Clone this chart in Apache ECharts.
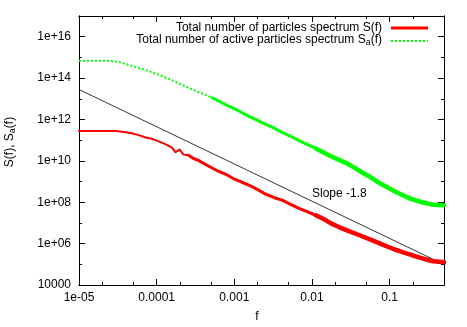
<!DOCTYPE html>
<html>
<head>
<meta charset="utf-8">
<script src="https://cdn.jsdelivr.net/npm/echarts@6/dist/echarts.min.js"></script>
<style>
html,body{margin:0;padding:0;background:#fff;}
#c{width:467px;height:327px;}
</style>
</head>
<body>
<div id="c"></div>
<script>
// ---- data ----
const redLowF  = [1e-5, 1.6e-5, 2.15e-5, 2.98e-5, 3.78e-5, 4.78e-5, 5.88e-5, 7.22e-5, 8.63e-5, 1.06e-4, 1.27e-4, 1.56e-4, 1.75e-4, 1.97e-4, 2.22e-4, 2.57e-4];
const redLowS  = [2.8e11, 2.8e11, 2.8e11, 2.75e11, 2.5e11, 2.15e11, 1.75e11, 1.35e11, 1.17e11, 8.7e10, 6.6e10, 4.5e10, 2.6e10, 3.5e10, 2.0e10, 1.86e10];
const redMidF  = [2.57e-4, 2.98e-4, 3.45e-4, 4.5e-4, 5.88e-4, 7.67e-4, 9.7e-4, 1.23e-3, 1.56e-3, 1.97e-3, 2.5e-3, 3.26e-3, 4.12e-3, 5.38e-3, 6.8e-3, 8.63e-3, 1.12e-2];
const redMidS  = [1.86e10, 1.3e10, 1.05e10, 6.0e9, 3.5e9, 2.3e9, 1.4e9, 9.5e8, 6.6e8, 4.2e8, 2.5e8, 1.65e8, 1.26e8, 7.6e7, 5.1e7, 3.5e7, 2.35e7];
const redHighF = [1.12e-2, 1.43e-2, 1.75e-2, 2.22e-2, 2.98e-2, 4.25e-2, 5.88e-2, 8.4e-2, 0.116, 0.16, 0.203, 0.257, 0.345, 0.5];
const redHighS = [2.35e7, 1.5e7, 9.5e6, 6.3e6, 4.0e6, 2.4e6, 1.48e6, 8.5e5, 5.2e5, 3.5e5, 2.6e5, 2.0e5, 1.45e5, 1.26e5];

const greenLowF  = [1e-5, 1.6e-5, 2.5e-5, 3.35e-5, 4.5e-5, 6.05e-5, 8.1e-5, 1.09e-4, 1.47e-4, 1.97e-4, 2.65e-4, 3.56e-4, 5.2e-4];
const greenLowS  = [6.9e14, 6.9e14, 6.8e14, 5.8e14, 4.2e14, 3.0e14, 2.1e14, 1.4e14, 8.9e13, 5.4e13, 3.2e13, 2.0e13, 1.12e13];
const greenMidF  = [5.2e-4, 6.4e-4, 7.9e-4, 9.7e-4, 1.16e-3, 1.56e-3, 1.97e-3, 2.42e-3, 3.16e-3, 4.12e-3, 5.38e-3, 6.8e-3, 8.63e-3, 1.12e-2];
const greenMidS  = [1.12e13, 7.6e12, 5.0e12, 3.5e12, 2.5e12, 1.38e12, 9.3e11, 6.3e11, 4.0e11, 2.35e11, 1.5e11, 9.5e10, 6.3e10, 4.0e10];
const greenHighF = [1.12e-2, 1.65e-2, 2.22e-2, 2.98e-2, 4.38e-2, 5.7e-2, 7.2e-2, 9.4e-2, 0.119, 0.175, 0.257, 0.366, 0.5];
const greenHighS = [4.0e10, 1.86e10, 1.12e10, 6.8e9, 2.8e9, 1.6e9, 8.9e8, 5.2e8, 3.2e8, 1.6e8, 1.0e8, 7.6e7, 7.2e7];

const slopeF = [1e-5, 0.5];
const slopeS = [2.8e13, 9.8e4];

const xMajorTicks = [1e-5, 1e-4, 1e-3, 1e-2, 1e-1];
const xMinorTicks = [2e-5, 5e-5, 2e-4, 5e-4, 2e-3, 5e-3, 2e-2, 5e-2, 2e-1];
const yMajorTicks = [1e4, 1e6, 1e8, 1e10, 1e12, 1e14, 1e16];
const yMinorTicks = [1e5, 1e7, 1e9, 1e11, 1e13, 1e15];
const xTickLabels = ['1e-05', '0.0001', '0.001', '0.01', '0.1'];
const yTickLabels = ['10000', '1e+06', '1e+08', '1e+10', '1e+12', '1e+14', '1e+16'];

const legendRed = 'Total number of particles spectrum S(f)';
const legendGreenMain = 'Total number of active particles spectrum S';
const legendGreenSub = 'a';
const slopeText = 'Slope -1.8';

// ---- chart ----
const FONT = 'Liberation Sans, Arial, sans-serif';
const zip = (a, b) => a.map((v, i) => [v, b[i]]);
const idxOf = (arr, v) => arr.findIndex(t => Math.abs(Math.log10(t) - Math.log10(v)) < 1e-6);

const G = {left: 79, top: 16, right: 23, bottom: 42};
const XMIN = 1e-5, XMAX = 0.5, YMIN = 1e4, YMAX = 1e17;

function xAxisDef(grid, pos, ticks, len, labels) {
  return {
    type: 'log', logBase: 10, gridIndex: grid, position: pos, min: XMIN, max: XMAX,
    axisLine: {show: true, onZero: false, lineStyle: {color: '#000', width: 1}},
    axisTick: {show: true, inside: true, length: len, customValues: ticks, lineStyle: {color: '#000', width: 1}},
    axisLabel: labels ? {show: true, customValues: ticks, margin: 7, color: '#000', fontFamily: FONT, fontSize: 12,
      formatter: v => { const i = idxOf(xMajorTicks, v); return i >= 0 ? xTickLabels[i] : ''; }} : {show: false},
    splitLine: {show: false}, minorTick: {show: false}
  };
}
function yAxisDef(grid, pos, ticks, len, labels) {
  return {
    type: 'log', logBase: 10, gridIndex: grid, position: pos, min: YMIN, max: YMAX,
    axisLine: {show: true, onZero: false, lineStyle: {color: '#000', width: 1}},
    axisTick: {show: true, inside: true, length: len, customValues: ticks, lineStyle: {color: '#000', width: 1}},
    axisLabel: labels ? {show: true, customValues: ticks, margin: 8, color: '#000', fontFamily: FONT, fontSize: 12,
      formatter: v => { const i = idxOf(yMajorTicks, v); return i >= 0 ? yTickLabels[i] : ''; }} : {show: false},
    splitLine: {show: false}, minorTick: {show: false}
  };
}
function lineSeries(f, s, color, width, dash, z) {
  return {type: 'line', xAxisIndex: 0, yAxisIndex: 0, data: zip(f, s), showSymbol: false, symbol: 'none',
    lineStyle: {color: color, width: width, type: dash || 'solid', join: 'round', cap: 'round'}, z: z};
}

const chart = echarts.init(document.getElementById('c'), null, {renderer: 'canvas'});
chart.setOption({
  animation: false,
  backgroundColor: '#fff',
  grid: [Object.assign({}, G), Object.assign({}, G)],
  xAxis: [
    xAxisDef(0, 'bottom', xMajorTicks, 6, true),
    xAxisDef(0, 'top', xMajorTicks, 6, false),
    xAxisDef(1, 'bottom', xMinorTicks, 3, false),
    xAxisDef(1, 'top', xMinorTicks, 3, false)
  ],
  yAxis: [
    yAxisDef(0, 'left', yMajorTicks, 6, true),
    yAxisDef(0, 'right', yMajorTicks, 6, false),
    yAxisDef(1, 'left', yMinorTicks, 3, false),
    yAxisDef(1, 'right', yMinorTicks, 3, false)
  ],
  series: [
    {type: 'line', xAxisIndex: 0, yAxisIndex: 0, data: zip(slopeF, slopeS), showSymbol: false, symbol: 'none',
      lineStyle: {color: '#000', width: 0.8}, z: 1},
    {type: 'line', xAxisIndex: 0, yAxisIndex: 0, data: zip(greenLowF, greenLowS), showSymbol: false, symbol: 'none',
      lineStyle: {color: '#00ff00', width: 2, type: [2, 2]}, z: 2},
    lineSeries(greenMidF, greenMidS, '#00ff00', 3, null, 2),
    lineSeries(greenHighF, greenHighS, '#00ff00', 4.5, null, 2),
    lineSeries(redLowF, redLowS, '#ff0000', 2, null, 3),
    lineSeries(redMidF, redMidS, '#ff0000', 3, null, 3),
    lineSeries(redHighF, redHighS, '#ff0000', 4.5, null, 3)
  ],
  graphic: [
    {type: 'text', x: 382, y: 28, style: {text: legendRed, font: '12px ' + FONT, fill: '#000', align: 'right', verticalAlign: 'middle'}},
    {type: 'line', shape: {x1: 391, y1: 28, x2: 428, y2: 28}, style: {stroke: '#ff0000', lineWidth: 3}},
    {type: 'text', x: 382, y: 40, style: {
      text: '{m|' + legendGreenMain + '}{s|' + legendGreenSub + '}{m|(f)}',
      align: 'right', verticalAlign: 'middle', fill: '#000',
      rich: {m: {fontSize: 12, fontFamily: FONT, fill: '#000', lineHeight: 14}, s: {fontSize: 9, fontFamily: FONT, fill: '#000', padding: [6, 0, 0, 0], lineHeight: 14}}}},
    {type: 'line', shape: {x1: 391, y1: 41, x2: 428, y2: 41}, style: {stroke: '#00ff00', lineWidth: 2, lineDash: [2, 2]}},
    {type: 'text', x: 312, y: 194, style: {text: slopeText, font: '12px ' + FONT, fill: '#000', align: 'left', verticalAlign: 'middle'}},
    {type: 'text', x: 257, y: 317, style: {text: 'f', font: '12px ' + FONT, fill: '#000', align: 'center', verticalAlign: 'middle'}},
    {type: 'text', x: 10, y: 142, rotation: Math.PI / 2, style: {
      text: '{m|S(f), S}{s|a}{m|(f)}', align: 'center', verticalAlign: 'middle', fill: '#000',
      rich: {m: {fontSize: 12, fontFamily: FONT, fill: '#000', lineHeight: 14}, s: {fontSize: 9, fontFamily: FONT, fill: '#000', padding: [6, 0, 0, 0], lineHeight: 14}}}}
  ]
});
</script>
</body>
</html>
